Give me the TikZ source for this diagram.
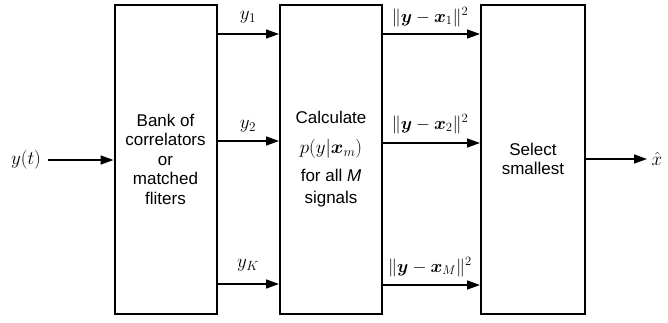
\documentclass[tikz,border=0pt]{standalone}
\usepackage{fix-cm}
\usepackage{amsmath,bm}
\usepackage{fontspec}
\setsansfont{Liberation Sans}
\usetikzlibrary{arrows.meta}
\begin{document}
\begin{tikzpicture}[x=1pt,y=-1pt,
  blk/.style={draw,line width=2pt,minimum width=102pt,minimum height=309pt,inner sep=0pt,
    align=center,font=\fontsize{17}{19.5}\selectfont\sffamily},
  arr/.style={line width=1.6pt,-{Triangle[length=13pt,width=9pt]}},
  lab/.style={font=\fontsize{19}{20}\selectfont,inner sep=0pt},
  nlab/.style={font=\fontsize{18}{20}\selectfont,inner sep=0pt}]
\useasboundingbox (0,0) rectangle (668,322);
\node[blk] (b1) at (165.5,159) {Bank of\\correlators\\or\\matched\\fliters};
\node[blk] (b2) at (331,159) {Calculate\\[10pt]{\fontsize{19}{20}\selectfont$p(y|\bm{x}_m)$}\\[9pt]for all \textit{M}\\[2pt]signals};
\node[blk,minimum width=104pt] (b3) at (533,159) {Select\\smallest};
\node[lab] (yt) at (26,160) {$y(t)$};
\coordinate (in) at (48,160);
\draw[arr] (in) -- (b1.west |- in);
\coordinate (r1) at (0,34);
\coordinate (r2) at (0,141);
\coordinate (r3) at (0,284);
\draw[arr] (b1.east |- r1) -- (b2.west |- r1);
\draw[arr] (b1.east |- r2) -- (b2.west |- r2);
\draw[arr] (b1.east |- r3) -- (b2.west |- r3);
\node[lab] (l1) at (248,17) {$y_1$};
\node[lab] (l2) at (248,126) {$y_2$};
\node[lab] (l3) at (248,265) {$y_K$};
\coordinate (s1) at (0,34);
\coordinate (s2) at (0,143);
\coordinate (s3) at (0,285);
\draw[arr] (b2.east |- s1) -- (b3.west |- s1);
\draw[arr] (b2.east |- s2) -- (b3.west |- s2);
\draw[arr] (b2.east |- s3) -- (b3.west |- s3);
\node[nlab] (n1) at (430,17) {$\|\bm{y}-\bm{x}_1\|^2$};
\node[nlab] (n2) at (430,124) {$\|\bm{y}-\bm{x}_2\|^2$};
\node[nlab] (n3) at (430,267) {$\|\bm{y}-\bm{x}_M\|^2$};
\coordinate (out) at (647,159);
\draw[arr] (b3.east |- out) -- (out);
\node[lab] (xh) at (657,159) {$\hat{x}$};
\end{tikzpicture}
\end{document}
